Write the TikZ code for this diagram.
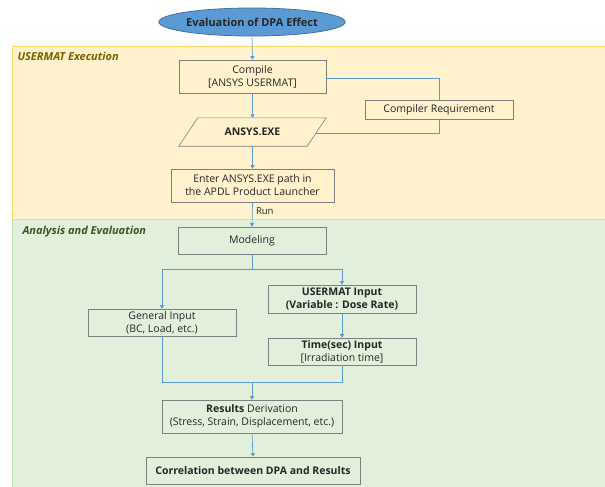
\documentclass[tikz,border=0pt]{standalone}
\usepackage{fontspec}
\setmainfont{Open Sans}
\usetikzlibrary{arrows.meta,calc,shapes.geometric}
\definecolor{conn}{HTML}{5B9BD5}
\definecolor{ellfill}{HTML}{5B9BD5}
\definecolor{elldraw}{HTML}{41719C}
\definecolor{yfill}{HTML}{FFF2CC}
\definecolor{ydraw}{HTML}{FFD966}
\definecolor{gfill}{HTML}{E2EFDA}
\definecolor{gdraw}{HTML}{C5E0B4}
\definecolor{boxdraw}{HTML}{7F7F7F}
\definecolor{ytext}{HTML}{7F6000}
\definecolor{gtext}{HTML}{385723}
\definecolor{txt}{HTML}{262626}
\tikzset{
  stepbox/.style={draw=boxdraw, line width=0.6pt, minimum height=#1, inner sep=1pt, align=center, text=txt, font=\fontsize{10.5}{13}\selectfont},
  stepbox/.default=28pt,
  conline/.style={draw=conn, line width=0.7pt},
  conarrow/.style={conline, -{Triangle[width=4pt,length=3.5pt]}},
  regionlabel/.style={anchor=west, font=\fontsize{11}{13}\selectfont\bfseries\itshape},
}
\begin{document}
\begin{tikzpicture}[x=1pt,y=-1pt]
\useasboundingbox (0,0) rectangle (605,487);
% regions
\fill[yfill] (12,46) rectangle (605,219);
\draw[ydraw, line width=0.8pt] (605,46) -- (12,46) -- (12,219);
\fill[gfill] (12,219) rectangle (605,487);
\draw[ydraw, line width=0.8pt] (12,219) -- (605,219);
\draw[gdraw, line width=0.8pt] (12,220) -- (12,487);
\node[regionlabel, text=ytext] (lab1) at (14,56) {USERMAT Execution};
\node[regionlabel, text=gtext] (lab2) at (19,232) {Analysis and Evaluation};
% start ellipse
\node[ellipse, draw=elldraw, fill=ellfill, line width=0.8pt, minimum width=170pt, minimum height=28pt, inner sep=0pt, font=\fontsize{11}{13}\selectfont\bfseries, text=txt] (start) at (252,22) {Evaluation of DPA Effect};
% nodes
\node[stepbox=33pt, minimum width=147pt] (compile) at (252.5,76.5) {Compile\\{}[ANSYS USERMAT]};
\node[stepbox=19pt, minimum width=148pt] (req) at (439,109.5) {Compiler Requirement};
\node[minimum width=147pt, minimum height=28pt, inner sep=0pt, text=txt, font=\fontsize{10.5}{13}\selectfont\bfseries] (exe) at (252.5,132) {ANSYS.EXE};
\draw[boxdraw, line width=0.6pt] ($(exe.north west)+(19,0)$) -- (exe.north east) -- ($(exe.south east)+(-19,0)$) -- (exe.south west) -- cycle;
\coordinate (exeR) at ($(exe.east)+(-9.5,0)$);
\node[stepbox=33pt, minimum width=163pt] (enter) at (252.5,185.5) {Enter ANSYS.EXE path in\\the APDL Product Launcher};
\node[stepbox=27pt, minimum width=148pt] (model) at (252,240.5) {Modeling};
\node[stepbox=28pt, minimum width=148pt, font=\fontsize{10.5}{13}\selectfont\bfseries] (umat) at (342,299) {USERMAT Input\\(Variable : Dose Rate)};
\node[stepbox=27pt, minimum width=148pt] (gen) at (162,322.5) {General Input\\(BC, Load, etc.)};
\node[stepbox=27pt, minimum width=148pt] (time) at (342,351.5) {\textbf{Time(sec) Input}\\{}[Irradiation time]};
\node[stepbox=33pt, minimum width=180pt] (res) at (252,416.5) {\textbf{Results} Derivation\\(Stress, Strain, Displacement, etc.)};
\node[stepbox=27pt, minimum width=214pt, font=\fontsize{10.5}{13}\selectfont\bfseries] (corr) at (253,470.5) {Correlation between DPA and Results};
% connectors
\draw[conarrow] (start.south) -- (compile.north);
\draw[conline] (compile.east |- 0,78) -| (req.north);
\draw[conline] (req.south) |- (exeR |- 0,133) -- (exeR);
\draw[conarrow] (compile.south) -- (exe.north);
\draw[conarrow] (exe.south) -- (enter.north);
\draw[conarrow] (enter.south) -- node[right, pos=0.35, font=\fontsize{9.5}{11}\selectfont, text=txt] (runlab) {Run} (model.north);
\coordinate (split) at (252,269);
\draw[conline] (model.south) -- (split);
\draw[conarrow] (split) -| (gen.north);
\draw[conarrow] (split) -| (umat.north);
\draw[conarrow] (umat.south) -- (time.north);
\coordinate (merge) at (252,382);
\draw[conline] (gen.south) |- (merge);
\draw[conline] (time.south) |- (merge);
\draw[conarrow] (merge) -- (res.north);
\draw[conarrow] (res.south) -- (corr.north);
\end{tikzpicture}
\end{document}
